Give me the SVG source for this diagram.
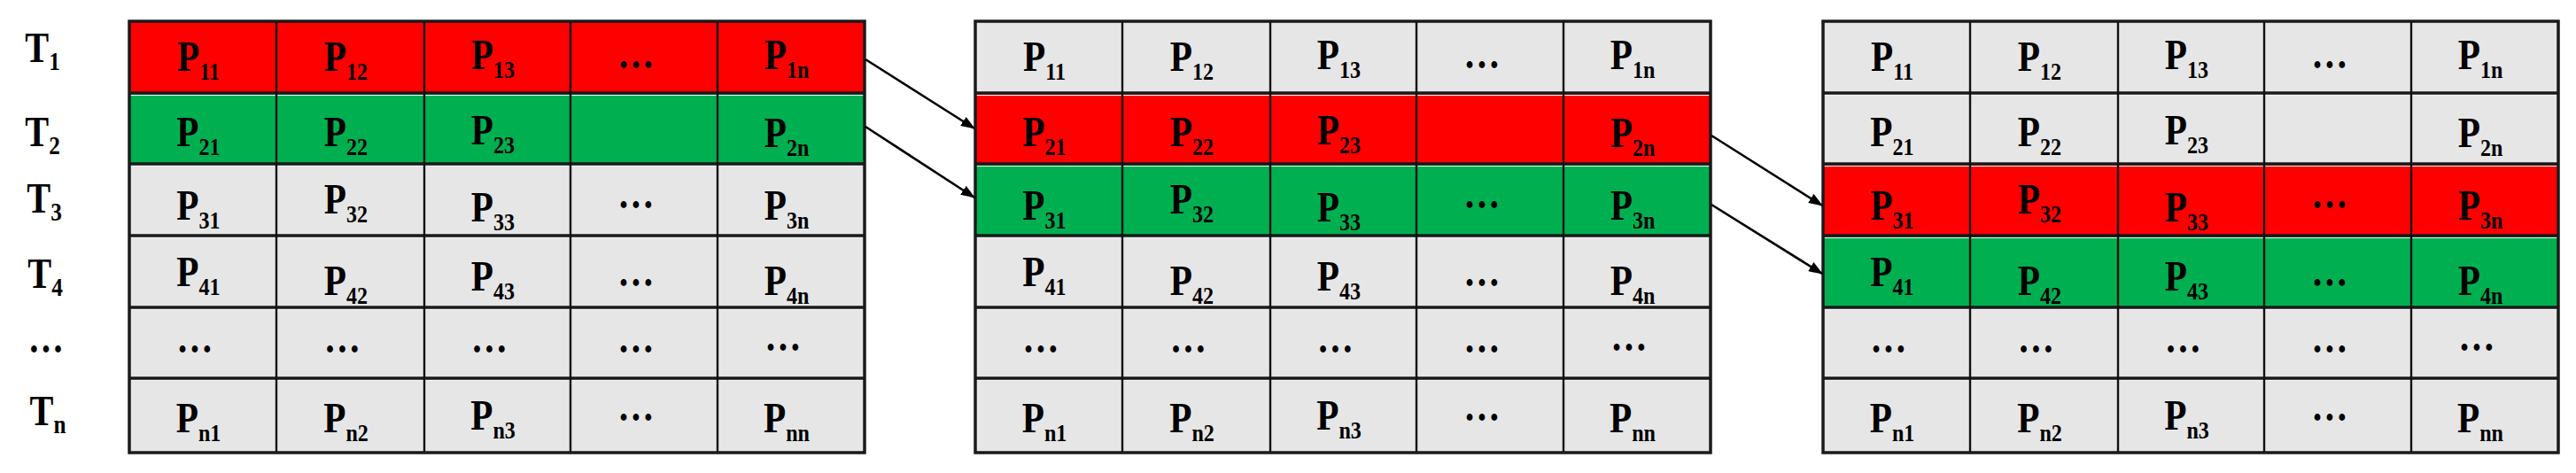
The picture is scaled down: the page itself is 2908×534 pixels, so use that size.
<svg xmlns="http://www.w3.org/2000/svg" width="2908" height="534" viewBox="0 0 2908 534">
<style>
.tx{font-family:"Liberation Serif","Times New Roman",serif;font-weight:bold;font-size:48px;text-anchor:middle;fill:#000}
.s{font-size:28px}
.ts{font-size:30px}
.red{fill:#FF0000}
.grn{fill:#00B050}
.gry{fill:#E6E6E6}
.hl{stroke:#1a1a1a;stroke-width:3.5}
.vl{stroke:#111;stroke-width:2.4}
.ol{fill:none;stroke:#1a1a1a;stroke-width:3.5}
.hi{stroke:#f4f4f4;stroke-width:1.2}
.arr{stroke:#000;stroke-width:2.6;fill:none;marker-end:url(#ah)}
</style>
<defs>
<marker id="ah" markerUnits="userSpaceOnUse" viewBox="0 0 16 12" markerWidth="16" markerHeight="12" refX="15" refY="6" orient="auto">
<path d="M0,0 L16,6 L0,12 z" fill="#000"/>
</marker>
</defs>
<rect width="2908" height="534" fill="#fff"/>

<g id="labels">
<text class="tx" transform="translate(48,70) scale(0.84,1)">T<tspan class="ts" dy="9">1</tspan></text>
<text class="tx" transform="translate(48,165) scale(0.84,1)">T<tspan class="ts" dy="9">2</tspan></text>
<text class="tx" transform="translate(50,240) scale(0.84,1)">T<tspan class="ts" dy="9">3</tspan></text>
<text class="tx" transform="translate(51,325) scale(0.84,1)">T<tspan class="ts" dy="9">4</tspan></text>
<text class="tx" transform="translate(52,398) scale(0.84,1)">…</text>
<text class="tx" transform="translate(54,480) scale(0.84,1)">T<tspan class="ts" dy="9">n</tspan></text>
</g>

<g id="grid1">
<rect class="red" x="146" y="24" width="830" height="81"/>
<rect class="grn" x="146" y="105" width="830" height="80"/>
<rect class="gry" x="146" y="185" width="830" height="326"/>
<g>
<line class="hi" x1="147" y1="107.5" x2="975" y2="107.5"/><line class="hi" x1="147" y1="187.5" x2="975" y2="187.5"/><line class="hi" x1="147" y1="268.5" x2="975" y2="268.5"/><line class="hi" x1="147" y1="349.5" x2="975" y2="349.5"/><line class="hi" x1="147" y1="429.5" x2="975" y2="429.5"/>
<line class="hl" x1="146" y1="105" x2="976" y2="105"/><line class="hl" x1="146" y1="185" x2="976" y2="185"/><line class="hl" x1="146" y1="266" x2="976" y2="266"/><line class="hl" x1="146" y1="347" x2="976" y2="347"/><line class="hl" x1="146" y1="427" x2="976" y2="427"/>
<line class="vl" x1="312" y1="24" x2="312" y2="511"/><line class="vl" x1="479" y1="24" x2="479" y2="511"/><line class="vl" x1="644" y1="24" x2="644" y2="511"/><line class="vl" x1="810" y1="24" x2="810" y2="511"/>
<rect class="ol" x="146" y="24" width="830" height="487"/>
</g>
<text class="tx" transform="translate(224,80) scale(0.86,1)">P<tspan class="s" dy="9.5">11</tspan></text>
<text class="tx" transform="translate(390.5,80) scale(0.86,1)">P<tspan class="s" dy="9.5">12</tspan></text>
<text class="tx" transform="translate(556.5,78) scale(0.86,1)">P<tspan class="s" dy="9.5">13</tspan></text>
<text class="tx" transform="translate(718,77) scale(0.86,1)">…</text>
<text class="tx" transform="translate(888,78) scale(0.86,1)">P<tspan class="s" dy="9.5">1n</tspan></text>
<text class="tx" transform="translate(224,165) scale(0.86,1)">P<tspan class="s" dy="9.5">21</tspan></text>
<text class="tx" transform="translate(390.5,165) scale(0.86,1)">P<tspan class="s" dy="9.5">22</tspan></text>
<text class="tx" transform="translate(556.5,163) scale(0.86,1)">P<tspan class="s" dy="9.5">23</tspan></text>
<text class="tx" transform="translate(888,166) scale(0.86,1)">P<tspan class="s" dy="9.5">2n</tspan></text>
<text class="tx" transform="translate(224,248) scale(0.86,1)">P<tspan class="s" dy="9.5">31</tspan></text>
<text class="tx" transform="translate(390.5,241) scale(0.86,1)">P<tspan class="s" dy="9.5">32</tspan></text>
<text class="tx" transform="translate(556.5,250) scale(0.86,1)">P<tspan class="s" dy="9.5">33</tspan></text>
<text class="tx" transform="translate(718,235) scale(0.86,1)">…</text>
<text class="tx" transform="translate(888,248) scale(0.86,1)">P<tspan class="s" dy="9.5">3n</tspan></text>
<text class="tx" transform="translate(224,323) scale(0.86,1)">P<tspan class="s" dy="9.5">41</tspan></text>
<text class="tx" transform="translate(390.5,333) scale(0.86,1)">P<tspan class="s" dy="9.5">42</tspan></text>
<text class="tx" transform="translate(556.5,328) scale(0.86,1)">P<tspan class="s" dy="9.5">43</tspan></text>
<text class="tx" transform="translate(718,323) scale(0.86,1)">…</text>
<text class="tx" transform="translate(888,333) scale(0.86,1)">P<tspan class="s" dy="9.5">4n</tspan></text>
<text class="tx" transform="translate(220,398) scale(0.86,1)">…</text>
<text class="tx" transform="translate(386.5,398) scale(0.86,1)">…</text>
<text class="tx" transform="translate(552.5,398) scale(0.86,1)">…</text>
<text class="tx" transform="translate(718,398) scale(0.86,1)">…</text>
<text class="tx" transform="translate(884,396) scale(0.86,1)">…</text>
<text class="tx" transform="translate(224,488) scale(0.86,1)">P<tspan class="s" dy="9.5">n1</tspan></text>
<text class="tx" transform="translate(390.5,488) scale(0.86,1)">P<tspan class="s" dy="9.5">n2</tspan></text>
<text class="tx" transform="translate(556.5,485) scale(0.86,1)">P<tspan class="s" dy="9.5">n3</tspan></text>
<text class="tx" transform="translate(718,475) scale(0.86,1)">…</text>
<text class="tx" transform="translate(888,488) scale(0.86,1)">P<tspan class="s" dy="9.5">nn</tspan></text>
</g>

<g id="grid2" transform="translate(955,0)">
<rect class="gry" x="146" y="24" width="830" height="81"/>
<rect class="red" x="146" y="105" width="830" height="80"/>
<rect class="grn" x="146" y="185" width="830" height="81"/>
<rect class="gry" x="146" y="266" width="830" height="245"/>
<g>
<line class="hi" x1="147" y1="107.5" x2="975" y2="107.5"/><line class="hi" x1="147" y1="187.5" x2="975" y2="187.5"/><line class="hi" x1="147" y1="268.5" x2="975" y2="268.5"/><line class="hi" x1="147" y1="349.5" x2="975" y2="349.5"/><line class="hi" x1="147" y1="429.5" x2="975" y2="429.5"/>
<line class="hl" x1="146" y1="105" x2="976" y2="105"/><line class="hl" x1="146" y1="185" x2="976" y2="185"/><line class="hl" x1="146" y1="266" x2="976" y2="266"/><line class="hl" x1="146" y1="347" x2="976" y2="347"/><line class="hl" x1="146" y1="427" x2="976" y2="427"/>
<line class="vl" x1="312" y1="24" x2="312" y2="511"/><line class="vl" x1="479" y1="24" x2="479" y2="511"/><line class="vl" x1="644" y1="24" x2="644" y2="511"/><line class="vl" x1="810" y1="24" x2="810" y2="511"/>
<rect class="ol" x="146" y="24" width="830" height="487"/>
</g>
<text class="tx" transform="translate(224,80) scale(0.86,1)">P<tspan class="s" dy="9.5">11</tspan></text>
<text class="tx" transform="translate(390.5,80) scale(0.86,1)">P<tspan class="s" dy="9.5">12</tspan></text>
<text class="tx" transform="translate(556.5,78) scale(0.86,1)">P<tspan class="s" dy="9.5">13</tspan></text>
<text class="tx" transform="translate(718,77) scale(0.86,1)">…</text>
<text class="tx" transform="translate(888,78) scale(0.86,1)">P<tspan class="s" dy="9.5">1n</tspan></text>
<text class="tx" transform="translate(224,165) scale(0.86,1)">P<tspan class="s" dy="9.5">21</tspan></text>
<text class="tx" transform="translate(390.5,165) scale(0.86,1)">P<tspan class="s" dy="9.5">22</tspan></text>
<text class="tx" transform="translate(556.5,163) scale(0.86,1)">P<tspan class="s" dy="9.5">23</tspan></text>
<text class="tx" transform="translate(888,166) scale(0.86,1)">P<tspan class="s" dy="9.5">2n</tspan></text>
<text class="tx" transform="translate(224,248) scale(0.86,1)">P<tspan class="s" dy="9.5">31</tspan></text>
<text class="tx" transform="translate(390.5,241) scale(0.86,1)">P<tspan class="s" dy="9.5">32</tspan></text>
<text class="tx" transform="translate(556.5,250) scale(0.86,1)">P<tspan class="s" dy="9.5">33</tspan></text>
<text class="tx" transform="translate(718,235) scale(0.86,1)">…</text>
<text class="tx" transform="translate(888,248) scale(0.86,1)">P<tspan class="s" dy="9.5">3n</tspan></text>
<text class="tx" transform="translate(224,323) scale(0.86,1)">P<tspan class="s" dy="9.5">41</tspan></text>
<text class="tx" transform="translate(390.5,333) scale(0.86,1)">P<tspan class="s" dy="9.5">42</tspan></text>
<text class="tx" transform="translate(556.5,328) scale(0.86,1)">P<tspan class="s" dy="9.5">43</tspan></text>
<text class="tx" transform="translate(718,323) scale(0.86,1)">…</text>
<text class="tx" transform="translate(888,333) scale(0.86,1)">P<tspan class="s" dy="9.5">4n</tspan></text>
<text class="tx" transform="translate(220,398) scale(0.86,1)">…</text>
<text class="tx" transform="translate(386.5,398) scale(0.86,1)">…</text>
<text class="tx" transform="translate(552.5,398) scale(0.86,1)">…</text>
<text class="tx" transform="translate(718,398) scale(0.86,1)">…</text>
<text class="tx" transform="translate(884,396) scale(0.86,1)">…</text>
<text class="tx" transform="translate(224,488) scale(0.86,1)">P<tspan class="s" dy="9.5">n1</tspan></text>
<text class="tx" transform="translate(390.5,488) scale(0.86,1)">P<tspan class="s" dy="9.5">n2</tspan></text>
<text class="tx" transform="translate(556.5,485) scale(0.86,1)">P<tspan class="s" dy="9.5">n3</tspan></text>
<text class="tx" transform="translate(718,475) scale(0.86,1)">…</text>
<text class="tx" transform="translate(888,488) scale(0.86,1)">P<tspan class="s" dy="9.5">nn</tspan></text>
</g>

<g id="grid3" transform="translate(1912,0)">
<rect class="gry" x="146" y="24" width="830" height="161"/>
<rect class="red" x="146" y="185" width="830" height="81"/>
<rect class="grn" x="146" y="266" width="830" height="81"/>
<rect class="gry" x="146" y="347" width="830" height="164"/>
<g>
<line class="hi" x1="147" y1="107.5" x2="975" y2="107.5"/><line class="hi" x1="147" y1="187.5" x2="975" y2="187.5"/><line class="hi" x1="147" y1="268.5" x2="975" y2="268.5"/><line class="hi" x1="147" y1="349.5" x2="975" y2="349.5"/><line class="hi" x1="147" y1="429.5" x2="975" y2="429.5"/>
<line class="hl" x1="146" y1="105" x2="976" y2="105"/><line class="hl" x1="146" y1="185" x2="976" y2="185"/><line class="hl" x1="146" y1="266" x2="976" y2="266"/><line class="hl" x1="146" y1="347" x2="976" y2="347"/><line class="hl" x1="146" y1="427" x2="976" y2="427"/>
<line class="vl" x1="312" y1="24" x2="312" y2="511"/><line class="vl" x1="479" y1="24" x2="479" y2="511"/><line class="vl" x1="644" y1="24" x2="644" y2="511"/><line class="vl" x1="810" y1="24" x2="810" y2="511"/>
<rect class="ol" x="146" y="24" width="830" height="487"/>
</g>
<text class="tx" transform="translate(224,80) scale(0.86,1)">P<tspan class="s" dy="9.5">11</tspan></text>
<text class="tx" transform="translate(390.5,80) scale(0.86,1)">P<tspan class="s" dy="9.5">12</tspan></text>
<text class="tx" transform="translate(556.5,78) scale(0.86,1)">P<tspan class="s" dy="9.5">13</tspan></text>
<text class="tx" transform="translate(718,77) scale(0.86,1)">…</text>
<text class="tx" transform="translate(888,78) scale(0.86,1)">P<tspan class="s" dy="9.5">1n</tspan></text>
<text class="tx" transform="translate(224,165) scale(0.86,1)">P<tspan class="s" dy="9.5">21</tspan></text>
<text class="tx" transform="translate(390.5,165) scale(0.86,1)">P<tspan class="s" dy="9.5">22</tspan></text>
<text class="tx" transform="translate(556.5,163) scale(0.86,1)">P<tspan class="s" dy="9.5">23</tspan></text>
<text class="tx" transform="translate(888,166) scale(0.86,1)">P<tspan class="s" dy="9.5">2n</tspan></text>
<text class="tx" transform="translate(224,248) scale(0.86,1)">P<tspan class="s" dy="9.5">31</tspan></text>
<text class="tx" transform="translate(390.5,241) scale(0.86,1)">P<tspan class="s" dy="9.5">32</tspan></text>
<text class="tx" transform="translate(556.5,250) scale(0.86,1)">P<tspan class="s" dy="9.5">33</tspan></text>
<text class="tx" transform="translate(718,235) scale(0.86,1)">…</text>
<text class="tx" transform="translate(888,248) scale(0.86,1)">P<tspan class="s" dy="9.5">3n</tspan></text>
<text class="tx" transform="translate(224,323) scale(0.86,1)">P<tspan class="s" dy="9.5">41</tspan></text>
<text class="tx" transform="translate(390.5,333) scale(0.86,1)">P<tspan class="s" dy="9.5">42</tspan></text>
<text class="tx" transform="translate(556.5,328) scale(0.86,1)">P<tspan class="s" dy="9.5">43</tspan></text>
<text class="tx" transform="translate(718,323) scale(0.86,1)">…</text>
<text class="tx" transform="translate(888,333) scale(0.86,1)">P<tspan class="s" dy="9.5">4n</tspan></text>
<text class="tx" transform="translate(220,398) scale(0.86,1)">…</text>
<text class="tx" transform="translate(386.5,398) scale(0.86,1)">…</text>
<text class="tx" transform="translate(552.5,398) scale(0.86,1)">…</text>
<text class="tx" transform="translate(718,398) scale(0.86,1)">…</text>
<text class="tx" transform="translate(884,396) scale(0.86,1)">…</text>
<text class="tx" transform="translate(224,488) scale(0.86,1)">P<tspan class="s" dy="9.5">n1</tspan></text>
<text class="tx" transform="translate(390.5,488) scale(0.86,1)">P<tspan class="s" dy="9.5">n2</tspan></text>
<text class="tx" transform="translate(556.5,485) scale(0.86,1)">P<tspan class="s" dy="9.5">n3</tspan></text>
<text class="tx" transform="translate(718,475) scale(0.86,1)">…</text>
<text class="tx" transform="translate(888,488) scale(0.86,1)">P<tspan class="s" dy="9.5">nn</tspan></text>
</g>

<g id="connectors">
<line class="arr" x1="977" y1="67" x2="1100" y2="145"/>
<line class="arr" x1="977" y1="143" x2="1100" y2="223"/>
<line class="arr" x1="1932" y1="153" x2="2057" y2="232"/>
<line class="arr" x1="1932" y1="231" x2="2057" y2="309"/>
</g>
</svg>
